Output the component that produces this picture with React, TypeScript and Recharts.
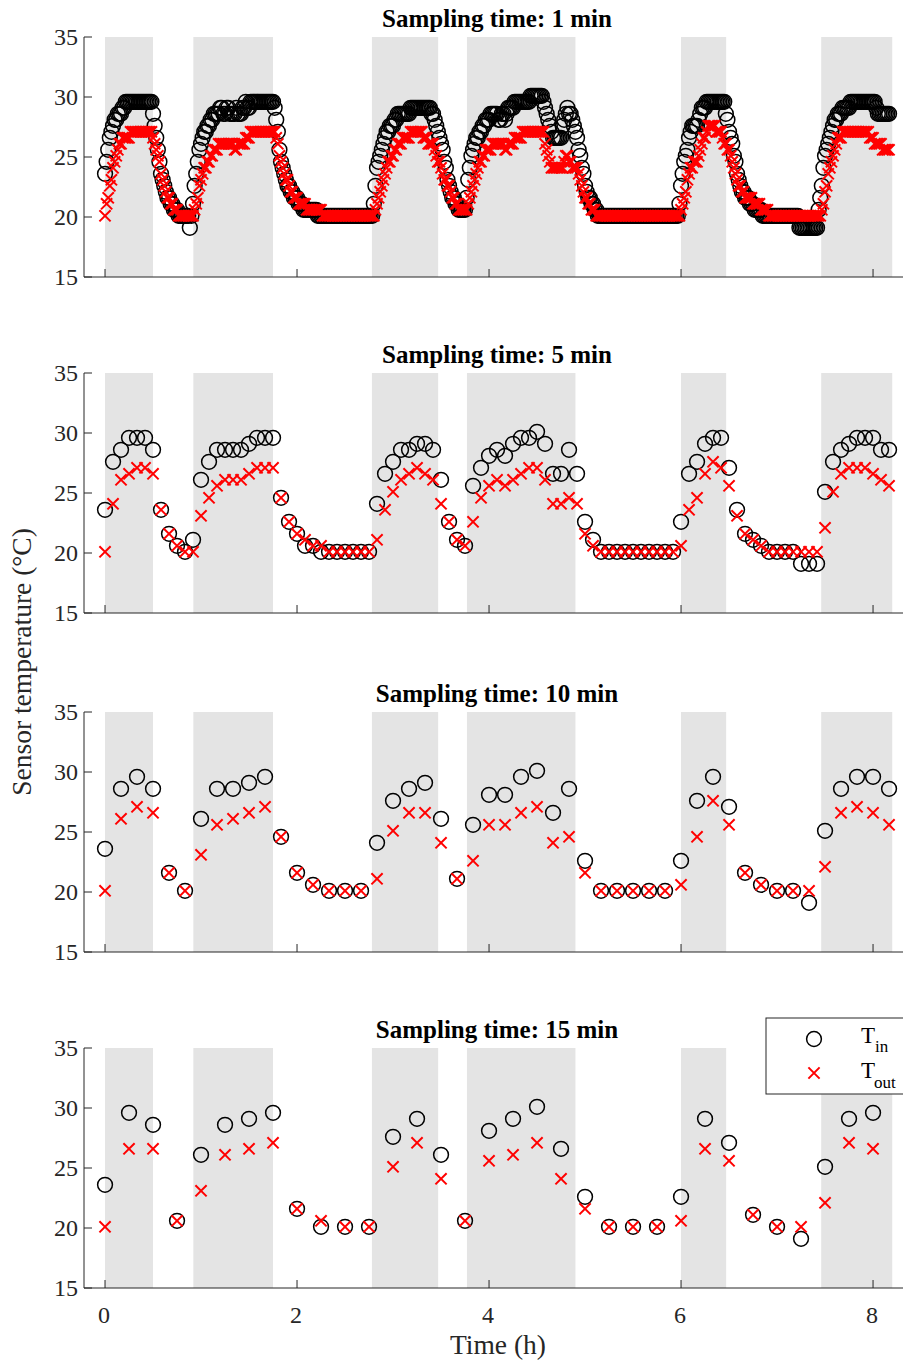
import { ReferenceArea, Scatter, ScatterChart, XAxis, YAxis } from "recharts";

const FONT = '"Liberation Serif", "Times New Roman", serif';
const AXIS_COLOR = "#262626";
const SHADE = "#e4e4e4";

const X_DOMAIN: [number, number] = [-0.219, 8.385];
const X_TICKS = [0, 2, 4, 6, 8];
const Y_TICKS = [15, 20, 25, 30, 35];

// heating periods (h)
const SHADED: [number, number][] = [
  [0, 0.5],
  [0.92, 1.75],
  [2.78, 3.47],
  [3.77, 4.9],
  [6.0, 6.47],
  [7.46, 8.2],
];

// 1 min sampling, read as runs of [value, minutes]
const T_IN_1MIN: [number, number][] = [
  [23.6, 1], [24.6, 1], [25.6, 1], [26.6, 1], [27.1, 1], [27.6, 1], [28.1, 2], [28.6, 3], [29.1, 2], [29.6, 17],
  [28.6, 1], [27.6, 1], [26.6, 1], [25.6, 1], [24.6, 1], [23.6, 1], [23.1, 1], [22.6, 1], [22.1, 1],
  [21.6, 2], [21.1, 2], [20.6, 3], [20.1, 7],
  [19.1, 1], [20.1, 1], [21.1, 1], [22.6, 1], [23.6, 1], [24.6, 1], [25.6, 1], [26.1, 1], [26.6, 1],
  [27.1, 2], [27.6, 2], [28.1, 2], [28.6, 4], [29.1, 2], [28.6, 2], [29.1, 2], [28.6, 4], [29.1, 1], [28.6, 3],
  [29.1, 2], [29.6, 1], [29.1, 2], [29.6, 15],
  [29.1, 1], [28.1, 1], [27.1, 1], [25.6, 1], [24.6, 1], [24.1, 1], [23.6, 1], [23.1, 1],
  [22.6, 2], [22.1, 2], [21.6, 3], [21.1, 3], [20.6, 9], [20.1, 35],
  [21.1, 1], [22.6, 1], [24.1, 1], [24.6, 1], [25.1, 1], [25.6, 1], [26.1, 1], [26.6, 1],
  [27.1, 2], [27.6, 3], [28.1, 2], [28.6, 8], [29.1, 13], [28.6, 2],
  [28.1, 1], [27.6, 1], [27.1, 1], [26.6, 1], [26.1, 1], [25.6, 1], [24.6, 1], [24.1, 1], [23.1, 1], [22.6, 1], [22.1, 1],
  [21.6, 2], [21.1, 2], [20.6, 5],
  [21.6, 1], [23.1, 1], [24.1, 1], [25.1, 1], [25.6, 1], [26.1, 1],
  [26.6, 2], [27.1, 2], [27.6, 2], [28.1, 3], [28.6, 5], [28.1, 2], [28.6, 2], [28.1, 1], [28.6, 1],
  [29.1, 4], [29.6, 10], [30.1, 8],
  [29.6, 1], [29.1, 1], [28.6, 1], [28.1, 1], [27.6, 1], [27.1, 1], [26.6, 6],
  [27.6, 1], [28.1, 1], [28.6, 1], [29.1, 1], [28.6, 2],
  [28.1, 1], [27.6, 1], [27.1, 1], [26.6, 1], [25.6, 1], [25.1, 1], [24.1, 1], [23.6, 1], [22.6, 1], [22.1, 1],
  [21.6, 2], [21.1, 2], [20.6, 2], [20.1, 51],
  [21.1, 1], [22.6, 1], [23.6, 1], [24.6, 1], [25.1, 1], [25.6, 1], [26.6, 1], [27.1, 1],
  [27.6, 4], [28.1, 1], [28.6, 1], [29.1, 3], [29.6, 12],
  [28.6, 1], [28.1, 1], [27.1, 1], [26.6, 1], [26.1, 1], [25.1, 1], [24.6, 1], [23.6, 1], [23.1, 1], [22.6, 1],
  [22.1, 2], [21.6, 3], [21.1, 3], [20.6, 5], [20.1, 23], [19.1, 12],
  [20.6, 1], [21.6, 1], [22.6, 1], [24.1, 1], [25.1, 1], [25.6, 1], [26.1, 1], [26.6, 1], [27.1, 1], [27.6, 1],
  [28.1, 2], [28.6, 3], [29.1, 5], [29.6, 16], [29.1, 1], [28.6, 8],
];

const T_OUT_1MIN: [number, number][] = [
  [20.1, 1], [21.1, 1], [21.6, 1], [22.6, 1], [23.1, 1], [24.1, 1], [24.6, 1], [25.1, 1], [25.6, 1],
  [26.1, 2], [26.6, 5], [27.1, 14],
  [26.6, 1], [26.1, 1], [25.6, 1], [25.1, 1], [24.6, 1], [23.6, 1], [23.1, 1], [22.6, 1], [22.1, 1],
  [21.6, 2], [21.1, 2], [20.6, 3], [20.1, 10],
  [20.6, 1], [21.1, 1], [21.6, 1], [22.6, 1], [23.1, 1], [23.6, 1],
  [24.1, 2], [24.6, 2], [25.1, 2], [25.6, 3], [26.1, 10], [25.6, 2], [26.1, 5], [26.6, 3], [27.1, 16],
  [26.6, 1], [26.1, 1], [25.1, 1], [24.6, 1], [24.1, 1], [23.6, 1],
  [23.1, 2], [22.6, 1], [22.1, 2], [21.6, 3], [21.1, 5], [20.6, 10], [20.1, 33],
  [20.6, 1], [21.1, 1], [21.6, 1], [22.1, 1], [22.6, 1], [23.1, 1], [23.6, 1], [24.1, 1],
  [24.6, 2], [25.1, 2], [25.6, 2], [26.1, 3], [26.6, 5], [27.1, 8], [26.6, 3], [26.1, 4],
  [25.6, 1], [25.1, 1], [24.6, 2], [24.1, 1], [23.6, 1], [23.1, 2], [22.6, 2], [22.1, 1],
  [21.6, 2], [21.1, 2], [20.6, 6],
  [21.1, 1], [21.6, 1], [22.1, 1], [22.6, 1], [23.1, 1], [23.6, 1], [24.1, 1],
  [24.6, 2], [25.1, 2], [25.6, 4], [26.1, 8], [25.6, 2], [26.1, 4], [26.6, 5], [27.1, 14],
  [26.1, 1], [25.6, 1], [25.1, 1], [24.6, 1],
  [24.1, 8], [24.6, 1], [25.1, 2], [24.6, 2], [24.1, 4],
  [23.6, 1], [23.1, 1], [22.6, 1], [22.1, 1],
  [21.6, 2], [21.1, 2], [20.6, 3], [20.1, 53],
  [20.6, 1], [21.1, 1], [21.6, 1], [22.1, 1], [23.1, 1], [23.6, 1],
  [24.1, 2], [24.6, 3], [25.1, 1], [25.6, 1], [26.1, 1], [26.6, 2], [27.1, 1], [27.6, 5], [27.1, 4],
  [26.6, 1], [26.1, 2], [25.6, 2], [25.1, 1], [24.6, 1], [24.1, 1], [23.6, 1], [23.1, 1],
  [22.6, 2], [22.1, 2], [21.6, 5], [21.1, 5], [20.6, 5], [20.1, 33],
  [20.6, 1], [21.1, 1], [22.1, 1], [22.6, 1], [23.6, 1], [24.1, 1], [24.6, 1], [25.1, 1], [25.6, 1], [26.1, 1],
  [26.6, 3], [27.1, 17], [26.6, 3], [26.1, 5], [25.6, 5],
];

const T_IN_5MIN = [
  23.6, 27.6, 28.6, 29.6, 29.6, 29.6, 28.6, 23.6, 21.6, 20.6,
  20.1, 21.1, 26.1, 27.6, 28.6, 28.6, 28.6, 28.6, 29.1, 29.6,
  29.6, 29.6, 24.6, 22.6, 21.6, 20.6, 20.6, 20.1, 20.1, 20.1,
  20.1, 20.1, 20.1, 20.1, 24.1, 26.6, 27.6, 28.6, 28.6, 29.1,
  29.1, 28.6, 26.1, 22.6, 21.1, 20.6, 25.6, 27.1, 28.1, 28.6,
  28.1, 29.1, 29.6, 29.6, 30.1, 29.1, 26.6, 26.6, 28.6, 26.6,
  22.6, 21.1, 20.1, 20.1, 20.1, 20.1, 20.1, 20.1, 20.1, 20.1,
  20.1, 20.1, 22.6, 26.6, 27.6, 29.1, 29.6, 29.6, 27.1, 23.6,
  21.6, 21.1, 20.6, 20.1, 20.1, 20.1, 20.1, 19.1, 19.1, 19.1,
  25.1, 27.6, 28.6, 29.1, 29.6, 29.6, 29.6, 28.6, 28.6,
];

const T_OUT_5MIN = [
  20.1, 24.1, 26.1, 26.6, 27.1, 27.1, 26.6, 23.6, 21.6, 20.6,
  20.1, 20.1, 23.1, 24.6, 25.6, 26.1, 26.1, 26.1, 26.6, 27.1,
  27.1, 27.1, 24.6, 22.6, 21.6, 21.1, 20.6, 20.6, 20.1, 20.1,
  20.1, 20.1, 20.1, 20.1, 21.1, 23.6, 25.1, 26.1, 26.6, 27.1,
  26.6, 26.1, 24.1, 22.6, 21.1, 20.6, 22.6, 24.6, 25.6, 26.1,
  25.6, 26.1, 26.6, 27.1, 27.1, 26.1, 24.1, 24.1, 24.6, 24.1,
  21.6, 20.6, 20.1, 20.1, 20.1, 20.1, 20.1, 20.1, 20.1, 20.1,
  20.1, 20.1, 20.6, 23.6, 24.6, 26.6, 27.6, 27.1, 25.6, 23.1,
  21.6, 21.1, 20.6, 20.1, 20.1, 20.1, 20.1, 20.1, 20.1, 20.1,
  22.1, 25.1, 26.6, 27.1, 27.1, 27.1, 26.6, 26.1, 25.6,
];

const T_IN_10MIN = [
  23.6, 28.6, 29.6, 28.6, 21.6, 20.1, 26.1, 28.6, 28.6, 29.1,
  29.6, 24.6, 21.6, 20.6, 20.1, 20.1, 20.1, 24.1, 27.6, 28.6,
  29.1, 26.1, 21.1, 25.6, 28.1, 28.1, 29.6, 30.1, 26.6, 28.6,
  22.6, 20.1, 20.1, 20.1, 20.1, 20.1, 22.6, 27.6, 29.6, 27.1,
  21.6, 20.6, 20.1, 20.1, 19.1, 25.1, 28.6, 29.6, 29.6, 28.6,
];

const T_OUT_10MIN = [
  20.1, 26.1, 27.1, 26.6, 21.6, 20.1, 23.1, 25.6, 26.1, 26.6,
  27.1, 24.6, 21.6, 20.6, 20.1, 20.1, 20.1, 21.1, 25.1, 26.6,
  26.6, 24.1, 21.1, 22.6, 25.6, 25.6, 26.6, 27.1, 24.1, 24.6,
  21.6, 20.1, 20.1, 20.1, 20.1, 20.1, 20.6, 24.6, 27.6, 25.6,
  21.6, 20.6, 20.1, 20.1, 20.1, 22.1, 26.6, 27.1, 26.6, 25.6,
];

const T_IN_15MIN = [
  23.6, 29.6, 28.6, 20.6, 26.1, 28.6, 29.1, 29.6, 21.6, 20.1,
  20.1, 20.1, 27.6, 29.1, 26.1, 20.6, 28.1, 29.1, 30.1, 26.6,
  22.6, 20.1, 20.1, 20.1, 22.6, 29.1, 27.1, 21.1, 20.1, 19.1,
  25.1, 29.1, 29.6,
];

const T_OUT_15MIN = [
  20.1, 26.6, 26.6, 20.6, 23.1, 26.1, 26.6, 27.1, 21.6, 20.6,
  20.1, 20.1, 25.1, 27.1, 24.1, 20.6, 25.6, 26.1, 27.1, 24.1,
  21.6, 20.1, 20.1, 20.1, 20.6, 26.6, 25.6, 21.1, 20.1, 20.1,
  22.1, 27.1, 26.6,
];

const PANEL_TOPS = [37, 373, 712, 1048];
const PLOT_H = 240;
const TOP_PAD = 16;
const CHART_W = 910;
const AXIS_W = 84;
const X_AXIS_H = 45;
const TICK_FONT = 24;

const fromRuns = (runs: [number, number][]) => runs.flatMap(([v, n]) => Array(n).fill(v) as number[]);

const toPoints = (values: number[], stepMin: number) =>
  values.map((v, i) => ({ t: (i * stepMin) / 60, v }));

const PANELS = [
  { step: 1, tin: fromRuns(T_IN_1MIN), tout: fromRuns(T_OUT_1MIN) },
  { step: 5, tin: T_IN_5MIN, tout: T_OUT_5MIN },
  { step: 10, tin: T_IN_10MIN, tout: T_OUT_10MIN },
  { step: 15, tin: T_IN_15MIN, tout: T_OUT_15MIN },
];

const textStyle = { fontFamily: FONT };

function OpenCircle(props: any) {
  const { cx, cy } = props;
  if (cx == null || cy == null) return <g />;
  return <circle cx={cx} cy={cy} r={7.4} fill="none" stroke="#000" strokeWidth={1.5} />;
}

function RedCross(props: any) {
  const { cx, cy } = props;
  if (cx == null || cy == null) return <g />;
  const s = 5.6;
  return (
    <path
      d={`M${cx - s},${cy - s}L${cx + s},${cy + s}M${cx - s},${cy + s}L${cx + s},${cy - s}`}
      stroke="#ff0000"
      strokeWidth={2}
      fill="none"
    />
  );
}

function YTick(props: any) {
  const { x, y, payload } = props;
  return (
    <g>
      <line x1={x + 6} y1={y} x2={x + 14} y2={y} stroke={AXIS_COLOR} strokeWidth={1} />
      <text x={x} y={y} dy="0.34em" textAnchor="end" fontSize={TICK_FONT} fill={AXIS_COLOR} style={textStyle}>
        {payload.value}
      </text>
    </g>
  );
}

function makeXTick(showLabel: boolean) {
  return (props: any) => {
    const { x, y, payload } = props;
    return (
      <g>
        <line x1={x} y1={y} x2={x} y2={y - 8} stroke={AXIS_COLOR} strokeWidth={1} />
        {showLabel && (
          <text x={x - 1} y={y + 35} textAnchor="middle" fontSize={TICK_FONT} fill={AXIS_COLOR} style={textStyle}>
            {payload.value}
          </text>
        )}
      </g>
    );
  };
}

function Panel({ index }: { index: number }) {
  const p = PANELS[index];
  const inPts = toPoints(p.tin, p.step);
  const outPts = toPoints(p.tout, p.step);
  return (
    <div style={{ position: "absolute", left: 0, top: PANEL_TOPS[index] - TOP_PAD }}>
      <ScatterChart
        width={CHART_W}
        height={TOP_PAD + PLOT_H + X_AXIS_H}
        margin={{ top: TOP_PAD, right: 0, bottom: 0, left: 0 }}
        style={textStyle}
      >
        <XAxis
          type="number"
          dataKey="t"
          domain={X_DOMAIN}
          allowDataOverflow
          ticks={X_TICKS}
          height={X_AXIS_H}
          axisLine={{ stroke: AXIS_COLOR, strokeWidth: 1 }}
          tickLine={false}
          tickSize={0}
          tickMargin={0}
          tick={makeXTick(index === 3)}
        />
        <YAxis
          type="number"
          dataKey="v"
          domain={[15, 35]}
          allowDataOverflow
          ticks={Y_TICKS}
          width={AXIS_W}
          axisLine={{ stroke: AXIS_COLOR, strokeWidth: 1 }}
          tickLine={false}
          tickSize={0}
          tickMargin={6}
          tick={<YTick />}
        />
        {SHADED.map(([a, b]) => (
          <ReferenceArea key={a} x1={a} x2={b} y1={15} y2={35} fill={SHADE} fillOpacity={1} stroke="none" />
        ))}
        <Scatter name="T_in" data={inPts} shape={OpenCircle} isAnimationActive={false} />
        <Scatter name="T_out" data={outPts} shape={RedCross} isAnimationActive={false} />
      </ScatterChart>
    </div>
  );
}

export default function App() {
  return (
    <div
      style={{
        position: "absolute",
        left: 0,
        top: 0,
        width: 903,
        height: 1361,
        overflow: "hidden",
        background: "#fff",
        fontFamily: FONT,
      }}
    >
      {PANELS.map((_, i) => (
        <Panel key={i} index={i} />
      ))}
      <svg width={903} height={1361} style={{ position: "absolute", left: 0, top: 0, pointerEvents: "none" }}>
        {PANELS.map((p, i) => (
          <text
            key={i}
            x={497}
            y={PANEL_TOPS[i] - 10.5}
            textAnchor="middle"
            fontSize={25}
            fontWeight="bold"
            fill="#000"
            style={textStyle}
          >
            {`Sampling time: ${p.step} min`}
          </text>
        ))}
        <text
          x={31}
          y={662}
          transform="rotate(-90 31 662)"
          textAnchor="middle"
          fontSize={27.5}
          fill={AXIS_COLOR}
          style={textStyle}
        >
          Sensor temperature (°C)
        </text>
        <text x={498} y={1354} textAnchor="middle" fontSize={27.5} fill={AXIS_COLOR} style={textStyle}>
          Time (h)
        </text>
        <g>
          <rect x={766} y={1018} width={200} height={76} fill="#fff" stroke={AXIS_COLOR} strokeWidth={1} />
          <OpenCircle cx={814} cy={1039} />
          <RedCross cx={814} cy={1073} />
          <text x={861} y={1043} fontSize={23} fill="#000" style={textStyle}>T</text>
          <text x={875} y={1052} fontSize={17} fill="#000" style={textStyle}>in</text>
          <text x={861} y={1078} fontSize={23} fill="#000" style={textStyle}>T</text>
          <text x={874} y={1088} fontSize={17} fill="#000" style={textStyle}>out</text>
        </g>
      </svg>
    </div>
  );
}
